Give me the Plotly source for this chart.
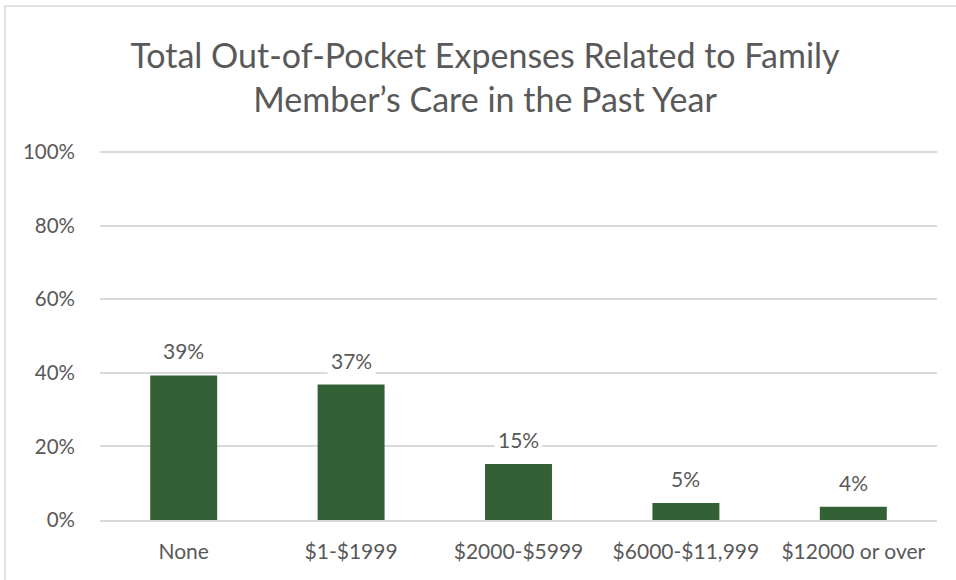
import plotly.graph_objects as go

# Survey results: share of respondents by out-of-pocket spending bracket
categories = ["None", "$1-$1999", "$2000-$5999", "$6000-$11,999", "$12000 or over"]
shares = [39.3, 36.8, 15.2, 4.6, 3.6]
y_ticks = [0, 20, 40, 60, 80, 100]
y_tick_labels = [f"{t}%" for t in y_ticks]

BAR = "#336135"
TEXT = "#595959"
GRID = "#d9d9d9"
FONT = "Lato, 'Open Sans', sans-serif"

W, H = 956, 580
ML, MR, MT, MB = 100, 19, 151, 60
plot_w = W - ML - MR
plot_h = H - MT - MB

fig = go.Figure(
    go.Bar(
        x=categories,
        y=shares,
        marker=dict(color=BAR, line=dict(width=0)),
        hoverinfo="skip",
    )
)

# Value labels sit above each bar on a white box that masks the gridlines
for cat, val in zip(categories, shares):
    fig.add_annotation(
        x=cat, y=val, xref="x", yref="y",
        text=f"{round(val)}%",
        showarrow=False,
        yanchor="bottom",
        yshift=8,
        bgcolor="white",
        borderpad=3,
        font=dict(family=FONT, size=21, color=TEXT),
    )

# Light chart-area frame (left and top edges visible)
fig.add_shape(
    type="rect", xref="paper", yref="paper",
    x0=(5 - ML) / plot_w, x1=(W + 10 - ML) / plot_w,
    y0=-(MB + 10) / plot_h, y1=1 + (MT - 6) / plot_h,
    line=dict(color=GRID, width=1.5),
    fillcolor="rgba(0,0,0,0)",
    layer="below",
)

fig.update_layout(
    width=W, height=H,
    margin=dict(l=ML, r=MR, t=MT, b=MB),
    paper_bgcolor="white",
    plot_bgcolor="white",
    bargap=0.6,
    showlegend=False,
    title=dict(
        text="Total Out-of-Pocket Expenses Related to Family<br>Member’s Care in the Past Year",
        x=485 / W, xanchor="center",
        y=1 - 68 / H, yanchor="middle",
        font=dict(family=FONT, size=34, color=TEXT),
    ),
    font=dict(family=FONT, color=TEXT),
)

fig.update_xaxes(
    showgrid=False,
    showline=True, linecolor=GRID, linewidth=1.5,
    ticks="",
    tickfont=dict(family=FONT, size=21, color=TEXT),
    ticklabelstandoff=12,
)
fig.update_yaxes(
    range=[0, 100.3],
    tickvals=y_ticks,
    ticktext=y_tick_labels,
    showgrid=True, gridcolor=GRID, gridwidth=1.5,
    zeroline=False,
    showline=False,
    ticks="",
    tickfont=dict(family=FONT, size=20.5, color=TEXT),
    ticklabelstandoff=24,
)

fig.write_html("out.html")
